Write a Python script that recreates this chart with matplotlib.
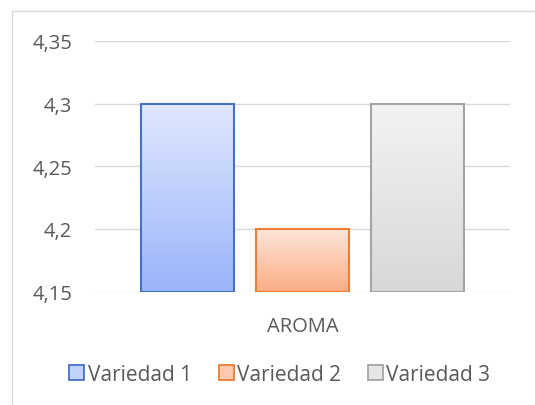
import matplotlib.pyplot as plt
import numpy as np
from matplotlib.patches import Patch
from matplotlib.lines import Line2D
from matplotlib.colors import LinearSegmentedColormap

plt.rcParams['font.family'] = ['Open Sans', 'DejaVu Sans']

category = "AROMA"
series = ["Variedad 1", "Variedad 2", "Variedad 3"]
values = [4.3, 4.2, 4.3]
y_ticks = [4.15, 4.2, 4.25, 4.3, 4.35]
y_labels = ["4,15", "4,2", "4,25", "4,3", "4,35"]

edges = ['#4472C4', '#ED7D31', '#A5A5A5']
grad_top = ['#e0e8fe', '#fde6da', '#f3f3f3']
grad_bot = ['#9bb4fb', '#fbae85', '#d8d8d8']
text_col = '#595959'
fs = 14.5

fig = plt.figure(figsize=(5.35, 4.06), dpi=100)
ax = fig.add_axes([95 / 535, 1 - 292.5 / 406, 415 / 535, 250.5 / 406])

ymin, ymax = 4.15, 4.35
width = 0.224
offsets = [-0.2765, 0, 0.2765]

for i, v in enumerate(values):
    x0 = offsets[i] - width / 2
    cmap = LinearSegmentedColormap.from_list('g%d' % i, [grad_bot[i], grad_top[i]])
    grad = np.linspace(0, 1, 256).reshape(-1, 1)
    im = ax.imshow(grad, cmap=cmap, aspect='auto', origin='lower',
                   extent=[x0, x0 + width, ymin, v], zorder=2)
    bar = ax.bar(offsets[i], v - ymin, bottom=ymin, width=width,
                 facecolor='none', edgecolor=edges[i], linewidth=1.5, zorder=3)
    im.set_clip_path(bar[0])

ax.set_xlim(-0.5, 0.5)
ax.set_ylim(ymin, ymax)
ax.set_yticks(y_ticks)
ax.set_yticklabels(y_labels, fontsize=fs, color=text_col)
ax.set_xticks([0])
ax.set_xticklabels([category], fontsize=fs, color=text_col)
for lab in ax.get_xticklabels():
    lab.set_verticalalignment('center')
ax.tick_params(length=0)
ax.tick_params(axis='y', pad=16.5)
ax.tick_params(axis='x', pad=24.8)
ax.yaxis.grid(True, color='#d9d9d9', linewidth=1)
ax.set_axisbelow(True)
for s in ax.spines.values():
    s.set_visible(False)

handles = [Patch(facecolor=c, edgecolor=e, linewidth=1.3)
           for c, e in zip(['#c2d2fd', '#fcc9ae', '#e6e6e6'], edges)]
fig.legend(handles, series, loc='center', bbox_to_anchor=(0.523, 0.075), ncol=3,
           frameon=False, fontsize=15, handlelength=0.72, handleheight=0.72,
           handletextpad=0.15, columnspacing=1.3, labelcolor=text_col,
           borderpad=0, borderaxespad=0)

# chart border (only left and top edges visible in the crop)
bx, by = 12 / 535, 1 - 12 / 406
fig.add_artist(Line2D([bx, bx, 1], [0, by, by], transform=fig.transFigure,
                      color='#d9d9d9', linewidth=1))

fig.savefig('out.png', dpi=100)
